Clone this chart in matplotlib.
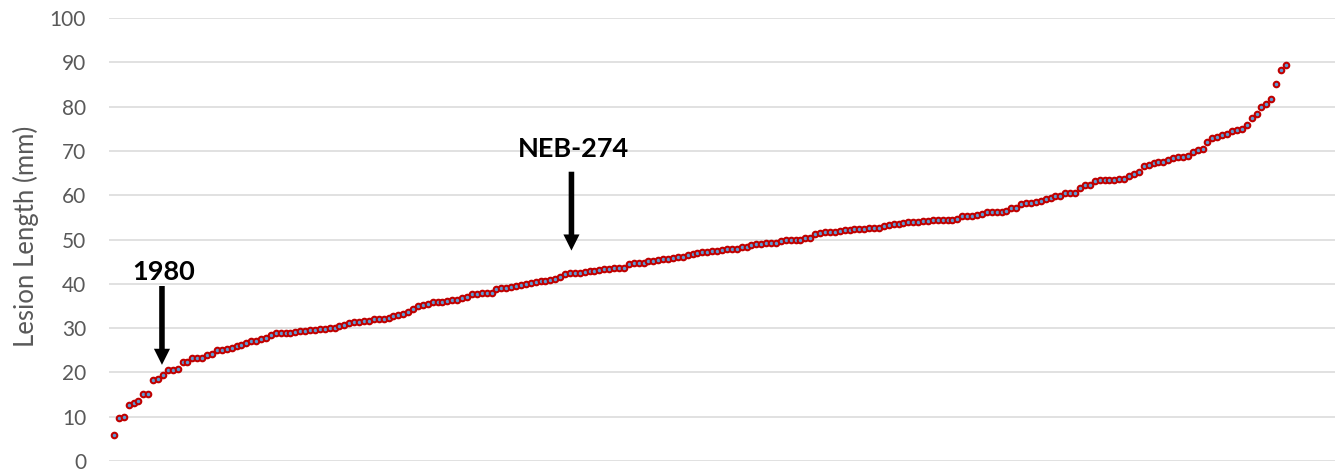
import matplotlib
matplotlib.use("Agg")
import matplotlib.pyplot as plt
import numpy as np

# Lesion lengths (mm), sorted ascending, one value per isolate
lesion_mm = [
    5.8, 9.6, 10.0, 12.6, 13.2, 13.5, 15.1, 15.2, 18.2, 18.5,
    19.5, 20.5, 20.5, 20.7, 22.3, 22.4, 23.2, 23.3, 23.3, 23.9,
    24.2, 25.1, 25.1, 25.3, 25.5, 25.9, 26.2, 26.6, 27.2, 27.2,
    27.5, 27.8, 28.5, 28.8, 28.8, 29.0, 29.0, 29.2, 29.3, 29.4,
    29.6, 29.6, 29.7, 29.9, 30.0, 30.0, 30.5, 30.8, 31.1, 31.4,
    31.4, 31.5, 31.7, 32.1, 32.1, 32.1, 32.2, 32.7, 33.0, 33.1,
    33.6, 34.3, 34.9, 35.3, 35.5, 35.8, 35.8, 35.8, 36.1, 36.4,
    36.4, 36.8, 37.0, 37.6, 37.6, 38.0, 38.0, 38.0, 38.8,
    39.1, 39.1, 39.3, 39.5, 39.7, 40.0, 40.2, 40.4, 40.6, 40.7,
    40.9, 41.1, 41.5, 42.2, 42.4, 42.5, 42.5, 42.7, 42.9, 43.0,
    43.2, 43.3, 43.4, 43.5, 43.5, 43.6, 44.5, 44.7, 44.7, 44.8,
    45.1, 45.2, 45.4, 45.5, 45.7, 45.8, 46.0, 46.0, 46.4, 46.8,
    47.0,
    47.1, 47.25, 47.4, 47.5, 47.6, 47.8, 47.9, 47.9, 48.2, 48.3,
    48.8, 48.9, 49.0, 49.1, 49.1, 49.2, 49.6, 49.8, 49.9, 49.9,
    50.0, 50.3, 50.3, 51.2, 51.5, 51.6, 51.8, 51.8, 52.0, 52.1,
    52.1, 52.3, 52.4, 52.4, 52.7, 52.7, 52.7, 53.0, 53.3, 53.4,
    53.5, 53.8, 53.9, 53.9, 54.0, 54.2, 54.2, 54.3, 54.5, 54.5,
    54.5, 54.5, 54.7, 55.2, 55.2, 55.2, 55.5, 55.7, 56.1, 56.1,
    56.2, 56.3, 56.4, 57.0, 57.0, 58.0, 58.2, 58.3, 58.4, 58.6,
    59.2, 59.3, 59.8, 59.8, 60.4, 60.5, 60.5, 61.6, 62.2, 62.2,
    63.2, 63.4, 63.4, 63.4, 63.5, 63.7, 63.7, 64.3, 64.7, 65.2,
    66.6, 66.8, 67.3, 67.4, 67.4, 67.9, 68.4, 68.6, 68.6, 68.9,
    69.7, 70.3, 70.4, 72.0, 73.0, 73.1, 73.6, 73.8, 74.5, 74.7,
    74.9, 75.9, 77.4, 78.4, 80.0, 80.6, 81.8, 85.0, 88.3, 89.4,
]
rank = np.arange(1, len(lesion_mm) + 1)

y_ticks = list(range(0, 101, 10))

# Highlighted isolates: label, arrow x, arrow tail y, arrow tip y, label baseline y
callout_labels = ["1980", "NEB-274"]
callout_x = [10.8, 94.3]
callout_tail = [39.5, 65.3]
callout_tip = [21.7, 47.5]
callout_text_y = [40.9, 68.6]

FONT = "Lato"
GRAY = "#595959"

fig = plt.figure(figsize=(13.38, 4.71), dpi=100)
ax = fig.add_axes([109 / 1338, 10 / 471, 1226 / 1338, 443 / 471])

ax.plot(rank, lesion_mm, linestyle="none", marker="o", markersize=4.0,
        markerfacecolor="#5B9BD5", markeredgecolor="#C00000",
        markeredgewidth=1.5, clip_on=False, zorder=3)

ax.set_xlim(0, 250)
ax.set_ylim(0, 100)
ax.set_yticks(y_ticks)
ax.set_xticks([])
ax.yaxis.grid(True, color="#D9D9D9", linewidth=1.1)
ax.set_axisbelow(True)
for s in ax.spines.values():
    s.set_visible(False)
ax.tick_params(axis="y", length=0, pad=16.5, labelsize=15, labelcolor=GRAY)
for lbl in ax.get_yticklabels():
    lbl.set_fontfamily(FONT)

ax.set_ylabel("Lesion Length (mm)", fontsize=18.5, color=GRAY, fontfamily=FONT)
ax.yaxis.set_label_coords(-0.0571, 0.508)

for lab, x, y0, y1, ty in zip(callout_labels, callout_x, callout_tail,
                              callout_tip, callout_text_y):
    ax.annotate("", xy=(x, y1), xytext=(x, y0),
                arrowprops=dict(arrowstyle="simple,head_length=0.58,head_width=0.58,tail_width=0.2",
                                mutation_scale=20, color="black", lw=0,
                                shrinkA=0, shrinkB=0), zorder=4)
    ax.text(x + 0.4, ty, lab, ha="center", va="baseline", fontsize=19.5,
            fontweight="bold", fontfamily=FONT, color="black", zorder=4)

fig.savefig("out.png", dpi=100)
